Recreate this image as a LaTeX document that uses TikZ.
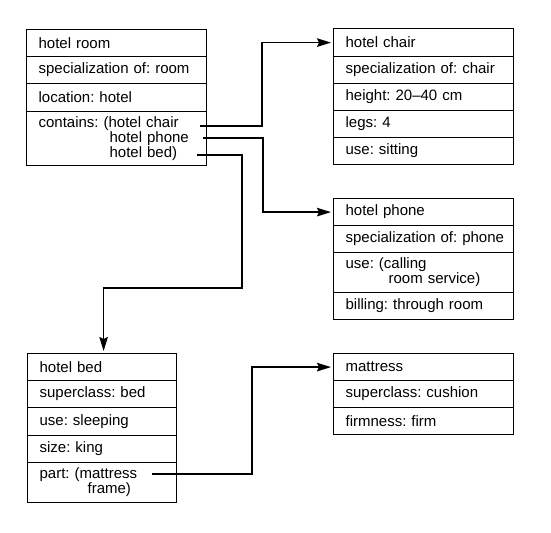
\documentclass[tikz,border=0pt]{standalone}
\usepackage{fontspec}
\setmainfont{Liberation Sans}
\usetikzlibrary{arrows.meta}
\newcommand\cellfont{\fontsize{15bp}{13.5bp}\selectfont\frenchspacing}
\tikzset{
  cell/.style={draw, line width=1.2bp, anchor=north west, inner xsep=5bp, inner ysep=0pt,
    align=left, font=\cellfont, execute at begin node={\hspace*{7bp}}},
  wide/.style={text width=170bp},
  narrow/.style={text width=139bp},
  arr/.style={line width=1.6bp, -{Stealth[length=14bp,width=8.5bp,inset=2bp]}, shorten >=2bp}
}
\begin{document}
\begin{tikzpicture}[x=1bp,y=-1bp]
\useasboundingbox (0,0) rectangle (551,533);
% hotel room
\node[cell,wide,minimum height=27bp] (room1) at (26,29) {hotel room};
\node[cell,wide,minimum height=27bp] (room2) at (26,56) {specialization of: room};
\node[cell,wide,minimum height=28bp] (room3) at (26,83) {location: hotel};
\node[cell,wide,minimum height=54bp] (room4) at (26,111) {contains: (hotel chair\\\hspace*{78bp}hotel phone\\\hspace*{78bp}hotel bed)};
% hotel chair
\node[cell,wide,minimum height=28bp] (chair1) at (333,28) {hotel chair};
\node[cell,wide,minimum height=27bp] (chair2) at (333,56) {specialization of: chair};
\node[cell,wide,minimum height=27bp] (chair3) at (333,83) {height: 20--40 cm};
\node[cell,wide,minimum height=27bp] (chair4) at (333,110) {legs: 4};
\node[cell,wide,minimum height=27bp] (chair5) at (333,137) {use: sitting};
% hotel phone
\node[cell,wide,minimum height=27bp] (phone1) at (333,198) {hotel phone};
\node[cell,wide,minimum height=27bp] (phone2) at (333,225) {specialization of: phone};
\node[cell,wide,minimum height=40bp] (phone3) at (333,252) {use: (calling\\\hspace*{50bp}room service)};
\node[cell,wide,minimum height=27bp] (phone4) at (333,292) {billing: through room};
% hotel bed
\node[cell,narrow,minimum height=27bp] (bed1) at (27,353) {hotel bed};
\node[cell,narrow,minimum height=27bp] (bed2) at (27,380) {superclass: bed};
\node[cell,narrow,minimum height=28bp] (bed3) at (27,407) {use: sleeping};
\node[cell,narrow,minimum height=27bp] (bed4) at (27,435) {size: king};
\node[cell,narrow,minimum height=40bp] (bed5) at (27,462) {part: (mattress\\\hspace*{55bp}frame)};
% mattress
\node[cell,wide,minimum height=27bp] (mat1) at (333,353) {mattress};
\node[cell,wide,minimum height=27bp] (mat2) at (333,380) {superclass: cushion};
\node[cell,wide,minimum height=27bp] (mat3) at (333,407) {firmness: firm};
% connectors
\coordinate (c1) at (200,126);
\coordinate (c2) at (203,138);
\coordinate (c3) at (197,155);
\coordinate (c4) at (152,474);
\draw[arr] (c1) -- ++(62,0) |- (chair1.west);
\draw[arr] (c2) -- ++(60,0) |- (phone1.west);
\draw[arr] (c3) -- ++(45,0) -- ++(0,133) -| ([xshift=1.5bp]bed1.north);
\draw[arr] (c4) -- ++(100,0) |- (mat1.west);
\end{tikzpicture}
\end{document}
